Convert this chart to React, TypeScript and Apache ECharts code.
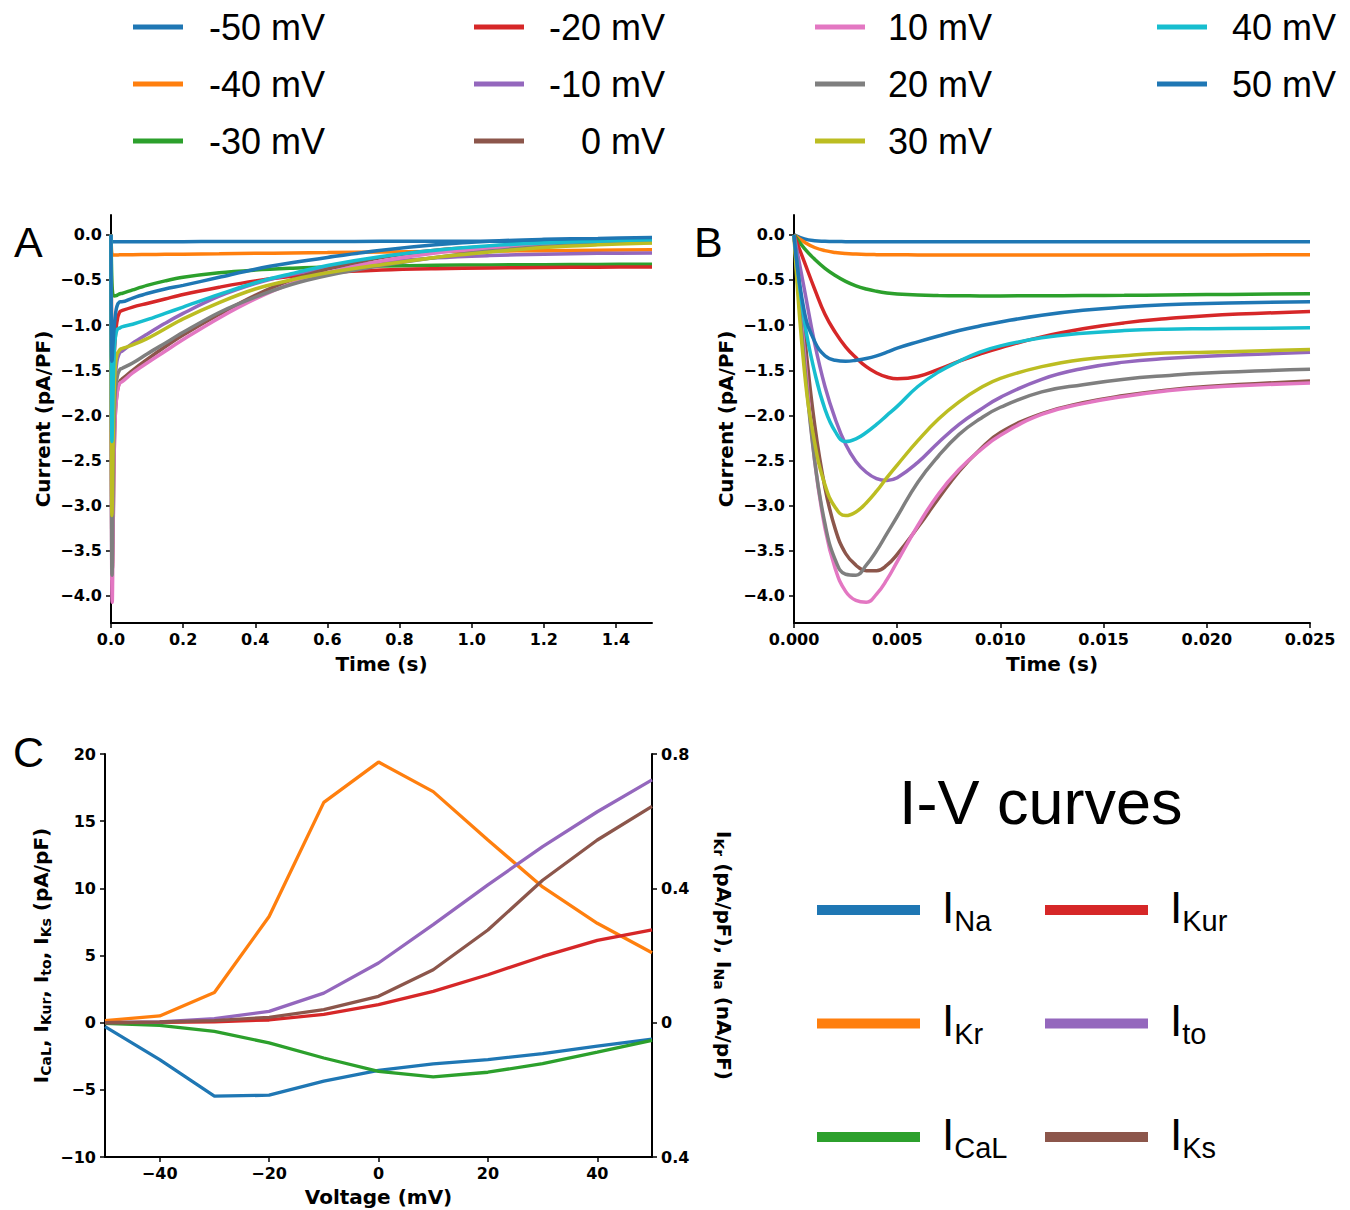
import React, { useEffect, useRef } from "react";
import * as echarts from "echarts";

// ---------- data ----------
const VOLTAGES = [-50, -40, -30, -20, -10, 0, 10, 20, 30, 40, 50];
const COLORS = ["#1f77b4", "#ff7f0e", "#2ca02c", "#d62728", "#9467bd", "#8c564b", "#e377c2", "#7f7f7f", "#bcbd22", "#17becf", "#1f77b4"];

// fast phase (panel B, and start of panel A), seconds
const T_FAST = [0, 0.0005, 0.001, 0.0015, 0.002, 0.0025, 0.003, 0.0035, 0.004, 0.0045, 0.005, 0.006, 0.007, 0.008, 0.009, 0.01, 0.012, 0.014, 0.016, 0.018, 0.02, 0.025];
// slow phase (rest of panel A), seconds
const T_SLOW = [0.03, 0.06, 0.1, 0.15, 0.2, 0.3, 0.4, 0.5, 0.6, 0.75, 0.9, 1.05, 1.2, 1.35, 1.5];

const FAST_M50 = [0, -0.045, -0.065, -0.071, -0.074, -0.075, -0.076, -0.076, -0.076, -0.076, -0.076, -0.076, -0.076, -0.076, -0.076, -0.076, -0.076, -0.076, -0.076, -0.076, -0.076, -0.075];
const FAST_M40 = [0, -0.08, -0.14, -0.175, -0.195, -0.207, -0.213, -0.217, -0.219, -0.22, -0.221, -0.222, -0.222, -0.222, -0.222, -0.222, -0.222, -0.222, -0.222, -0.222, -0.222, -0.221];
const FAST_M30 = [0, -0.15, -0.27, -0.37, -0.45, -0.515, -0.565, -0.6, -0.625, -0.643, -0.654, -0.666, -0.672, -0.675, -0.676, -0.676, -0.675, -0.673, -0.67, -0.666, -0.662, -0.652];
const FAST_M20 = [0, -0.3, -0.6, -0.88, -1.08, -1.24, -1.36, -1.46, -1.53, -1.575, -1.595, -1.57, -1.49, -1.4, -1.32, -1.25, -1.13, -1.04, -0.975, -0.93, -0.895, -0.85];
const FAST_M10 = [0, -0.6, -1.2, -1.68, -2.04, -2.32, -2.51, -2.63, -2.7, -2.72, -2.69, -2.52, -2.3, -2.1, -1.94, -1.8, -1.6, -1.48, -1.41, -1.37, -1.345, -1.3];
const FAST_0 = [0, -1.1, -2.1, -2.8, -3.26, -3.53, -3.66, -3.72, -3.72, -3.66, -3.54, -3.24, -2.92, -2.62, -2.38, -2.19, -1.98, -1.86, -1.78, -1.72, -1.68, -1.62];
const FAST_P10 = [0, -1.3, -2.5, -3.25, -3.7, -3.95, -4.05, -4.07, -3.98, -3.82, -3.62, -3.22, -2.87, -2.6, -2.39, -2.22, -1.99, -1.87, -1.79, -1.73, -1.69, -1.64];
const FAST_P20 = [0, -1.4, -2.5, -3.2, -3.6, -3.76, -3.77, -3.66, -3.5, -3.31, -3.12, -2.74, -2.45, -2.21, -2.04, -1.91, -1.74, -1.66, -1.6, -1.56, -1.53, -1.49];
const FAST_P30 = [0, -1.5, -2.3, -2.77, -3.02, -3.11, -3.07, -2.97, -2.84, -2.69, -2.55, -2.28, -2.04, -1.85, -1.7, -1.59, -1.46, -1.38, -1.34, -1.31, -1.3, -1.27];
const FAST_P40 = [0, -0.95, -1.52, -1.93, -2.18, -2.29, -2.26, -2.19, -2.1, -2.0, -1.9, -1.68, -1.52, -1.4, -1.3, -1.23, -1.14, -1.09, -1.06, -1.045, -1.04, -1.03];
const FAST_P50 = [0, -0.85, -1.18, -1.34, -1.39, -1.4, -1.39, -1.37, -1.34, -1.3, -1.255, -1.185, -1.12, -1.06, -1.01, -0.965, -0.89, -0.835, -0.8, -0.775, -0.76, -0.74];

const SLOW_M50 = [-0.075, -0.075, -0.075, -0.075, -0.075, -0.074, -0.074, -0.073, -0.073, -0.072, -0.072, -0.071, -0.071, -0.07, -0.07];
const SLOW_M40 = [-0.22, -0.22, -0.218, -0.216, -0.214, -0.21, -0.205, -0.2, -0.196, -0.19, -0.184, -0.179, -0.175, -0.17, -0.166];
const SLOW_M30 = [-0.65, -0.61, -0.56, -0.51, -0.47, -0.42, -0.39, -0.37, -0.355, -0.345, -0.338, -0.333, -0.33, -0.327, -0.325];
const SLOW_M20 = [-0.84, -0.8, -0.76, -0.71, -0.66, -0.58, -0.51, -0.46, -0.42, -0.39, -0.375, -0.367, -0.362, -0.358, -0.355];
const SLOW_M10 = [-1.29, -1.2, -1.1, -0.98, -0.87, -0.68, -0.54, -0.44, -0.37, -0.3, -0.255, -0.23, -0.215, -0.205, -0.2];
const SLOW_0 = [-1.6, -1.5, -1.38, -1.24, -1.11, -0.88, -0.67, -0.5, -0.38, -0.25, -0.17, -0.13, -0.105, -0.09, -0.085];
const SLOW_P10 = [-1.63, -1.53, -1.42, -1.29, -1.16, -0.92, -0.71, -0.54, -0.42, -0.29, -0.2, -0.15, -0.11, -0.09, -0.075];
const SLOW_P20 = [-1.48, -1.42, -1.32, -1.2, -1.08, -0.86, -0.69, -0.55, -0.45, -0.34, -0.25, -0.18, -0.13, -0.1, -0.08];
const SLOW_P30 = [-1.26, -1.22, -1.15, -1.04, -0.93, -0.75, -0.6, -0.5, -0.42, -0.33, -0.25, -0.19, -0.14, -0.11, -0.09];
const SLOW_P40 = [-1.02, -0.99, -0.94, -0.87, -0.8, -0.66, -0.53, -0.43, -0.34, -0.24, -0.17, -0.12, -0.09, -0.07, -0.055];
const SLOW_P50 = [-0.74, -0.7, -0.65, -0.6, -0.56, -0.47, -0.38, -0.31, -0.25, -0.17, -0.11, -0.07, -0.05, -0.04, -0.03];

const FAST = [FAST_M50, FAST_M40, FAST_M30, FAST_M20, FAST_M10, FAST_0, FAST_P10, FAST_P20, FAST_P30, FAST_P40, FAST_P50];
const SLOW = [SLOW_M50, SLOW_M40, SLOW_M30, SLOW_M20, SLOW_M10, SLOW_0, SLOW_P10, SLOW_P20, SLOW_P30, SLOW_P40, SLOW_P50];

// tick values
const Y_TICKS_AB = [-4, -3.5, -3, -2.5, -2, -1.5, -1, -0.5, 0];
const X_TICKS_A = [0, 0.2, 0.4, 0.6, 0.8, 1.0, 1.2, 1.4];
const X_TICKS_C = [-40, -20, 0, 20, 40];

// panel C: I-V curves
const V_STEPS = [-50, -40, -30, -20, -10, 0, 10, 20, 30, 40, 50];
const I_NA = [-0.012, -0.11, -0.219, -0.216, -0.174, -0.142, -0.123, -0.11, -0.092, -0.07, -0.049]; // nA/pF (right axis)
const I_KR = [0.006, 0.02, 0.09, 0.316, 0.656, 0.776, 0.688, 0.544, 0.404, 0.296, 0.208]; // pA/pF (right axis)
const I_CAL = [-0.05, -0.2, -0.65, -1.51, -2.63, -3.62, -4.04, -3.69, -3.05, -2.2, -1.31];
const I_KUR = [0, 0.02, 0.07, 0.2, 0.62, 1.34, 2.33, 3.57, 4.93, 6.12, 6.91];
const I_TO = [0, 0.05, 0.3, 0.84, 2.2, 4.44, 7.3, 10.26, 13.1, 15.7, 18.07];
const I_KS = [0, 0.05, 0.15, 0.4, 0.97, 1.96, 3.94, 6.9, 10.6, 13.6, 16.1];

const CURRENT_NAMES = ["INa", "IKr", "ICaL", "IKur", "Ito", "IKs"];
const CURRENT_SUBS = ["Na", "Kr", "CaL", "Kur", "to", "Ks"];

// ---------- styles ----------
const AX_FONT = "DejaVu Sans";
const LG_FONT = "Liberation Sans";
const minus = (s: string) => s.replace("-", "\u2212");

const axisLine = { show: true, onZero: false, lineStyle: { color: "#000", width: 2 } };
const tickStyle = { show: true, inside: false, length: 5, lineStyle: { color: "#000", width: 1.5 } };
const labelStyle = { fontFamily: AX_FONT, fontWeight: "bold", fontSize: 16, color: "#000" };
const nameStyle = { fontFamily: AX_FONT, fontWeight: "bold", fontSize: 20, color: "#000" };

const subRich = {
  b: { fontFamily: AX_FONT, fontWeight: "bold", fontSize: 20, lineHeight: 22, verticalAlign: "top", color: "#000" },
  s: { fontFamily: AX_FONT, fontWeight: "bold", fontSize: 14, lineHeight: 10, verticalAlign: "bottom", color: "#000" },
};

function buildOption() {
  const series: any[] = [];
  VOLTAGES.forEach((v, k) => {
    const name = `${v} mV`;
    const fast = T_FAST.map((t, i) => [t, FAST[k][i]]);
    const slow = T_SLOW.map((t, i) => [t, SLOW[k][i]]);
    series.push({
      name, type: "line", xAxisIndex: 0, yAxisIndex: 0, data: fast.concat(slow),
      showSymbol: false, symbol: "none", smooth: 0.35,
      lineStyle: { width: 3.5, color: COLORS[k] }, itemStyle: { color: COLORS[k] },
    });
    series.push({
      name, type: "line", xAxisIndex: 1, yAxisIndex: 1, data: fast,
      showSymbol: false, symbol: "none", smooth: 0.45,
      lineStyle: { width: 3.5, color: COLORS[k] }, itemStyle: { color: COLORS[k] },
    });
  });

  const ivData = [I_NA, I_KR, I_CAL, I_KUR, I_TO, I_KS];
  const ivAxis = [3, 3, 2, 2, 2, 2];
  ivData.forEach((arr, k) => {
    series.push({
      name: CURRENT_NAMES[k], type: "line", xAxisIndex: 2, yAxisIndex: ivAxis[k],
      data: V_STEPS.map((v, i) => [v, arr[i]]),
      showSymbol: false, symbol: "none",
      lineStyle: { width: 3.3, color: COLORS[k] }, itemStyle: { color: COLORS[k] },
    });
  });

  const mvCols = [
    { left: 133, w: 137, names: [0, 1, 2] },
    { left: 474, w: 136, names: [3, 4, 5] },
    { left: 815, w: 122, names: [6, 7, 8] },
    { left: 1157, w: 124, names: [9, 10] },
  ];
  const legends: any[] = mvCols.map((c) => ({
    orient: "vertical", left: c.left, top: 9, padding: 0, itemGap: 21, itemWidth: 50, itemHeight: 5, icon: "rect",
    data: c.names.map((i) => `${VOLTAGES[i]} mV`),
    formatter: (n: string) => `{t|${n}}`,
    textStyle: { rich: { t: { fontFamily: LG_FONT, fontSize: 36, lineHeight: 36, width: c.w, align: "right", color: "#000" } } },
    selectedMode: false,
  }));
  const ivRich = {
    i: { fontFamily: LG_FONT, fontSize: 44, lineHeight: 44, padding: [0, 0, 18, 17], verticalAlign: "top", color: "#000" },
    s: { fontFamily: LG_FONT, fontSize: 29, lineHeight: 50, verticalAlign: "bottom", color: "#000" },
  };
  const ivFmt = (n: string) => `{i|I}{s|${CURRENT_SUBS[CURRENT_NAMES.indexOf(n)]}}`;
  legends.push({
    orient: "vertical", left: 817, top: 885, padding: 0, itemGap: 51.5, itemWidth: 103, itemHeight: 10, icon: "rect",
    data: ["INa", "IKr", "ICaL"], formatter: ivFmt, textStyle: { rich: ivRich }, selectedMode: false,
  });
  legends.push({
    orient: "vertical", left: 1045, top: 885, padding: 0, itemGap: 51.5, itemWidth: 103, itemHeight: 10, icon: "rect",
    data: ["IKur", "Ito", "IKs"], formatter: ivFmt, textStyle: { rich: ivRich }, selectedMode: false,
  });

  const yAB = (gridIndex: number) => ({
    type: "value", gridIndex, min: -4.3, max: 0.22,
    axisLine, axisTick: { ...tickStyle, customValues: Y_TICKS_AB },
    axisLabel: { ...labelStyle, margin: 9, customValues: Y_TICKS_AB, formatter: (v: number) => minus(v.toFixed(1)) },
    splitLine: { show: false },
    name: "Current (pA/PF)", nameLocation: "middle", nameGap: 58, nameRotate: 90, nameTextStyle: nameStyle,
  });

  return {
    animation: false,
    backgroundColor: "#fff",
    legend: legends,
    grid: [
      { left: 111, top: 215, width: 541, height: 408, outerBoundsMode: "none" },
      { left: 794, top: 215, width: 516, height: 408, outerBoundsMode: "none" },
      { left: 105, top: 754, width: 547, height: 403, outerBoundsMode: "none" },
    ],
    xAxis: [
      {
        type: "value", gridIndex: 0, min: 0, max: 1.5,
        axisLine, axisTick: { ...tickStyle, customValues: X_TICKS_A },
        axisLabel: { ...labelStyle, margin: 8, customValues: X_TICKS_A, formatter: (v: number) => v.toFixed(1) },
        splitLine: { show: false },
        name: "Time (s)", nameLocation: "middle", nameGap: 31, nameTextStyle: nameStyle,
      },
      {
        type: "value", gridIndex: 1, min: 0, max: 0.025, interval: 0.005,
        axisLine, axisTick: tickStyle,
        axisLabel: { ...labelStyle, margin: 8, formatter: (v: number) => v.toFixed(3) },
        splitLine: { show: false },
        name: "Time (s)", nameLocation: "middle", nameGap: 31, nameTextStyle: nameStyle,
      },
      {
        type: "value", gridIndex: 2, min: -50, max: 50,
        axisLine, axisTick: { ...tickStyle, customValues: X_TICKS_C },
        axisLabel: { ...labelStyle, margin: 8, customValues: X_TICKS_C, formatter: (v: number) => minus(String(v)) },
        splitLine: { show: false },
        name: "Voltage (mV)", nameLocation: "middle", nameGap: 30, nameTextStyle: nameStyle,
      },
    ],
    yAxis: [
      yAB(0),
      yAB(1),
      {
        type: "value", gridIndex: 2, min: -10, max: 20, interval: 5,
        axisLine, axisTick: tickStyle,
        axisLabel: { ...labelStyle, margin: 9, formatter: (v: number) => minus(String(v)) },
        splitLine: { show: false },
        name: "{b|I}{s|CaL}{b|, I}{s|Kur}{b|, I}{s|to}{b|, I}{s|Ks}{b| (pA/pF)}",
        nameLocation: "middle", nameGap: 52, nameRotate: 90, nameTextStyle: { rich: subRich },
      },
      {
        type: "value", gridIndex: 2, position: "right", min: -0.4, max: 0.8, interval: 0.4,
        axisLine, axisTick: tickStyle,
        axisLabel: { ...labelStyle, margin: 9, formatter: (v: number) => (Math.abs(v) < 1e-9 ? "0" : Math.abs(v).toFixed(1)) },
        splitLine: { show: false },
        name: "{b|I}{s|Kr}{b| (pA/pF), I}{s|Na}{b| (nA/pF)}",
        nameLocation: "middle", nameGap: 60, nameRotate: -90, nameTextStyle: { rich: subRich },
      },
    ],
    graphic: [
      { type: "text", x: 14, y: 242, style: { text: "A", fontFamily: LG_FONT, fontSize: 43, fill: "#000", verticalAlign: "middle" } },
      { type: "text", x: 694, y: 242, style: { text: "B", fontFamily: LG_FONT, fontSize: 43, fill: "#000", verticalAlign: "middle" } },
      { type: "text", x: 13, y: 752, style: { text: "C", fontFamily: LG_FONT, fontSize: 43, fill: "#000", verticalAlign: "middle" } },
      { type: "text", x: 899, y: 802, style: { text: "I-V curves", fontFamily: LG_FONT, fontSize: 63, fill: "#000", verticalAlign: "middle" } },
    ],
    series,
  };
}

export default function App() {
  const ref = useRef<HTMLDivElement>(null);
  useEffect(() => {
    if (!ref.current) return;
    const chart = echarts.init(ref.current, undefined, { renderer: "svg" });
    chart.setOption(buildOption() as any);
    return () => chart.dispose();
  }, []);
  return <div ref={ref} style={{ position: "absolute", left: 0, top: 0, width: 1350, height: 1210, background: "#fff" }} />;
}
